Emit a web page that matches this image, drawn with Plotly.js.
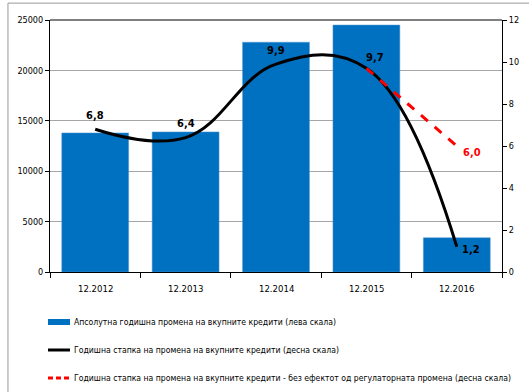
<!DOCTYPE html>
<html><head><meta charset="utf-8">
<script src="https://cdn.plot.ly/plotly-3.0.1.min.js"></script>
<style>html,body{margin:0;padding:0;background:#fff}#chart{width:529px;height:392px}</style>
</head><body><div id="chart"></div>
<script>
const categories = ["12.2012","12.2013","12.2014","12.2015","12.2016"];
const absChange = [13800, 13900, 22800, 24500, 3400];
const rate = [6.8, 6.4, 9.9, 9.7, 1.2];
const rateLabels = ["6,8","6,4","9,9","9,7","1,2"];
const adjCategories = ["12.2015","12.2016"];
const adjRate = [9.7, 6.0];
const adjLabels = ["","6,0"];
const legendNames = [
  "Апсолутна годишна промена на вкупните кредити (лева скала)",
  "Годишна стапка на промена на вкупните кредити (десна скала)",
  "Годишна стапка на промена на вкупните кредити - без ефектот од регулаторната промена (десна скала)"
];
const F = "Tahoma, 'DejaVu Sans Condensed', sans-serif";
const traces = [
  {type:"bar", x:categories, y:absChange, name:legendNames[0],
   marker:{color:"#0070C0", line:{color:"#5B9BD5", width:0.5}}, width:0.74, hoverinfo:"none"},
  {type:"scatter", mode:"lines", x:categories, y:rate, yaxis:"y2", name:legendNames[1],
   line:{color:"#000", width:3, shape:"spline", smoothing:1.15}, cliponaxis:false},
  {type:"scatter", mode:"lines", x:adjCategories, y:adjRate, yaxis:"y2", name:legendNames[2],
   line:{color:"#FF0000", width:3, dash:"dash"}, cliponaxis:false}
];
const idx = c => categories.indexOf(c);
const rateShift = [[0,14],[0,14],[0,14],[9,11],[14,-3]];
const annotations = [];
rate.forEach((v,i)=>{
  annotations.push({x:i, y:v, xref:"x", yref:"y2", text:rateLabels[i], showarrow:false,
    xshift:rateShift[i][0], yshift:rateShift[i][1],
    font:{family:F, size:11, color:"#000", weight:"bold"}});
});
adjRate.forEach((v,i)=>{
  if(!adjLabels[i]) return;
  annotations.push({x:idx(adjCategories[i]), y:v, xref:"x", yref:"y2", text:adjLabels[i], showarrow:false,
    xshift:15, yshift:-6, font:{family:F, size:11, color:"#FF0000", weight:"bold"}});
});
categories.forEach((c,i)=>{
  annotations.push({x:i, y:0, xref:"x", yref:"paper", yanchor:"middle", text:c, showarrow:false, yshift:-16,
    font:{family:F, size:9.5, color:"#000"}});
});
// custom legend (pixel -> paper)
const px = p => (p-50)/452, py = p => (272-p)/252;
const legY = [322, 350, 378];
legendNames.forEach((n,i)=>{
  annotations.push({x:px(72), y:py(legY[i]), xref:"paper", yref:"paper", xanchor:"left", yanchor:"middle",
    text:n, showarrow:false, font:{family:F, size:8.6, color:"#000"}});
});
const layout = {
  width:529, height:392, margin:{l:50, r:27, t:20, b:120},
  paper_bgcolor:"#fff", plot_bgcolor:"#fff",
  font:{family:F, size:9, color:"#000"},
  showlegend:false,
  annotations:annotations,
  xaxis:{type:"category", range:[-0.5, categories.length-0.5], tickson:"boundaries", ticks:"outside", ticklen:5, tickcolor:"#000",
         showline:true, linecolor:"#000", linewidth:1, mirror:false, showgrid:false,
         showticklabels:false},
  yaxis:{range:[0,25000], dtick:5000, tickformat:"d", showgrid:true, gridcolor:"#A6A6A6", gridwidth:1,
         showline:true, linecolor:"#000", linewidth:1, ticks:"outside", ticklen:4, tickcolor:"#000",
         tickfont:{family:F, size:9}, zeroline:false},
  yaxis2:{range:[0,12], dtick:2, overlaying:"y", side:"right", showgrid:false,
          showline:true, linecolor:"#000", linewidth:1, ticks:"outside", ticklen:4, tickcolor:"#000",
          tickfont:{family:F, size:9}, zeroline:false},
  shapes:[
    {type:"line", xref:"paper", yref:"paper", x0:0, x1:1, y0:1, y1:1, line:{color:"#000", width:1}},
    {type:"line", xref:"paper", yref:"paper", x0:-0.093, x1:1.07, y0:1.067, y1:1.067, line:{color:"#999", width:1}},
    {type:"line", xref:"paper", yref:"paper", x0:-0.093, x1:-0.093, y0:1.067, y1:-0.5, line:{color:"#999", width:1}},
    {type:"rect", xref:"paper", yref:"paper", x0:px(48), x1:px(70), y0:py(319), y1:py(325),
     fillcolor:"#0070C0", line:{width:0}},
    {type:"line", xref:"paper", yref:"paper", x0:px(48), x1:px(70), y0:py(350), y1:py(350),
     line:{color:"#000", width:3}},
    {type:"line", xref:"paper", yref:"paper", x0:px(48), x1:px(70), y0:py(378), y1:py(378),
     line:{color:"#FF0000", width:3, dash:"5px,3px"}}
  ]
};
Plotly.newPlot("chart", traces, layout, {displayModeBar:false, staticPlot:true});
</script></body></html>
